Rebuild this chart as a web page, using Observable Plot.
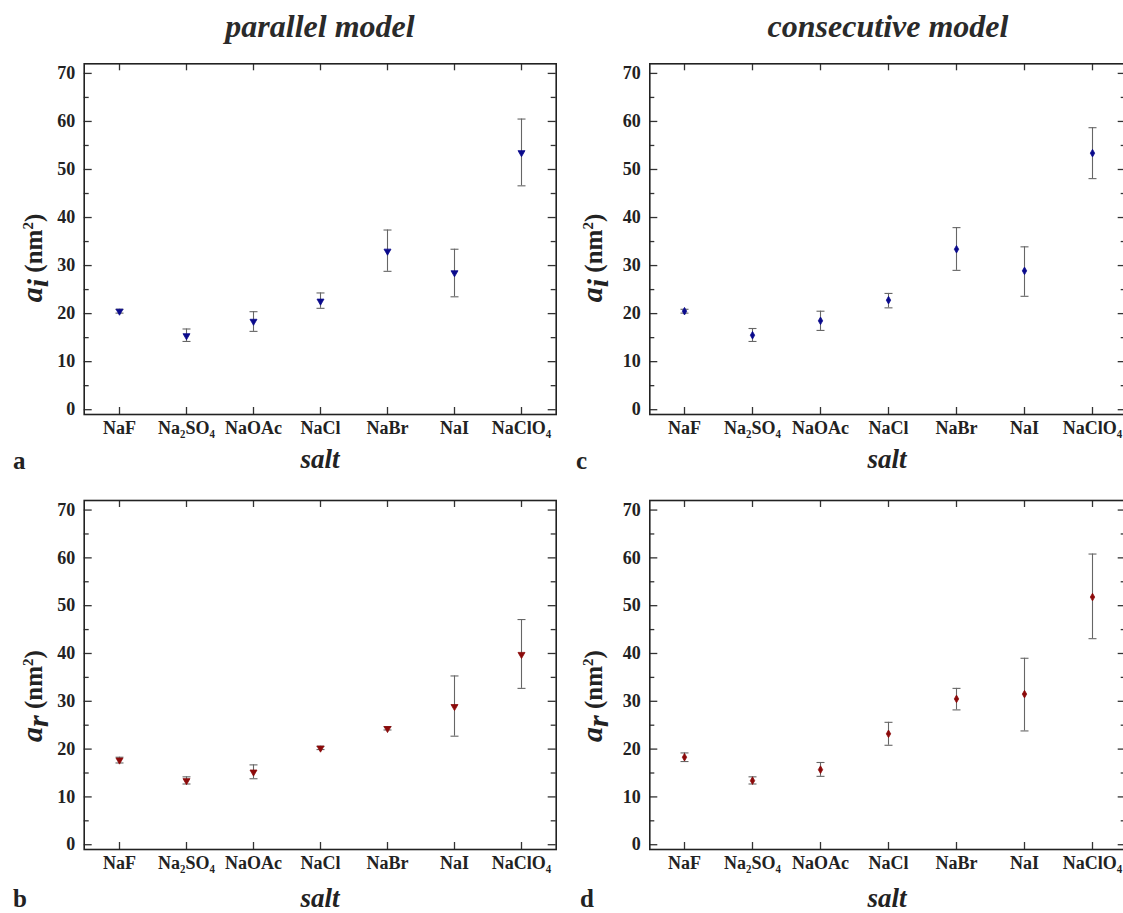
<!DOCTYPE html>
<html>
<head>
<meta charset="utf-8">
<script src="https://cdn.jsdelivr.net/npm/d3@7"></script>
<script src="https://cdn.jsdelivr.net/npm/@observablehq/plot@0.6"></script>
<style>
  html, body { margin: 0; padding: 0; background: #fff; }
  #root { position: relative; width: 1123px; height: 913px; overflow: hidden; font-family: "Liberation Serif", "Times New Roman", serif; color: #222; }
  .abs { position: absolute; }
  .title { font-size: 32px; font-weight: bold; font-style: italic; color: #2a2a2a; transform: translate(-50%, -50%); white-space: nowrap; }
  .xlab { font-size: 27px; font-weight: bold; font-style: italic; transform: translate(-50%, -50%); white-space: nowrap; }
  .letter { font-size: 25px; font-weight: bold; transform: translate(0, -50%); }
  .ylab { font-size: 25px; font-weight: bold; transform: translate(-50%, -50%) rotate(-90deg); white-space: nowrap; }
  .ylab i { font-size: 30px; }
  .ylab sub, .ylab sup { font-size: 15px; }
  svg { max-width: none !important; }
</style>
</head>
<body>
<div id="root"></div>
<script>
// ---- data ----
const salts = ["NaF", "Na\u2082SO\u2084", "NaOAc", "NaCl", "NaBr", "NaI", "NaClO\u2084"];
const yMajorTicks = [0, 10, 20, 30, 40, 50, 60, 70];
const yMinorTicks = [5, 15, 25, 35, 45, 55, 65];

// (a) parallel model, a_i
const parallelAi     = [20.5, 15.4, 18.4, 22.6, 33.0, 28.5, 53.5];
const parallelAiLow  = [20.1, 14.2, 16.3, 21.1, 28.8, 23.5, 46.6];
const parallelAiHigh = [20.9, 16.8, 20.4, 24.3, 37.4, 33.4, 60.5];
// (c) consecutive model, a_i
const consecAi       = [20.5, 15.5, 18.5, 22.8, 33.4, 28.9, 53.4];
const consecAiLow    = [20.1, 14.2, 16.5, 21.2, 29.0, 23.6, 48.1];
const consecAiHigh   = [20.9, 16.9, 20.5, 24.2, 37.9, 33.9, 58.7];
// (b) parallel model, a_r
const parallelAr     = [17.7, 13.4, 15.2, 20.2, 24.3, 28.9, 39.8];
const parallelArLow  = [17.1, 12.7, 13.8, 19.9, 24.0, 22.7, 32.7];
const parallelArHigh = [18.3, 14.2, 16.7, 20.6, 24.7, 35.3, 47.1];
// (d) consecutive model, a_r
const consecAr       = [18.3, 13.4, 15.7, 23.2, 30.5, 31.5, 51.8];
const consecArLow    = [17.4, 12.7, 14.3, 20.8, 28.2, 23.8, 43.1];
const consecArHigh   = [19.2, 14.2, 17.2, 25.6, 32.7, 39.0, 60.8];

const root = document.getElementById("root");

const capSymbol = {
  draw(ctx, size) {
    const w = Math.sqrt(size / Math.PI);
    ctx.moveTo(-w, 0);
    ctx.lineTo(w, 0);
  }
};

function panel({left, top, width, height, ml, mr, mt, mb, vals, lo, hi, color, symbol, r, rotate}) {
  const fw = width - ml - mr;
  const fh = height - mt - mb;
  const rows = salts.map((s, i) => ({salt: s, v: vals[i], lo: lo[i], hi: hi[i]}));
  const tickStroke = {stroke: "#333", strokeWidth: 1.3};
  const p = Plot.plot({
    width, height,
    marginLeft: ml, marginRight: mr, marginTop: mt, marginBottom: mb,
    x: {type: "point", domain: salts, padding: 0.5, label: null},
    y: {domain: [-1, 72], label: null},
    style: {fontFamily: "'Liberation Serif', 'Times New Roman', serif", color: "#222", background: "transparent", overflow: "visible", maxWidth: "none"},
    marks: [
      Plot.ruleY(yMajorTicks, {y: d => d, insetRight: fw - 8, ...tickStroke}),
      Plot.ruleY(yMajorTicks, {y: d => d, insetLeft: fw - 8, ...tickStroke}),
      Plot.ruleY(yMinorTicks, {y: d => d, insetRight: fw - 5, ...tickStroke}),
      Plot.ruleY(yMinorTicks, {y: d => d, insetLeft: fw - 5, ...tickStroke}),
      Plot.ruleX(salts, {x: d => d, insetTop: fh - 7, ...tickStroke}),
      Plot.ruleX(salts, {x: d => d, insetBottom: fh - 7, ...tickStroke}),
      Plot.axisY({ticks: yMajorTicks, tickSize: 0, tickPadding: 9, fontSize: 18, fontWeight: "bold", label: null}),
      Plot.axisX({tickSize: 0, tickPadding: 7, fontSize: 18, fontWeight: "bold", label: null}),
      Plot.frame({stroke: "#222", strokeWidth: 1.6}),
      Plot.ruleX(rows, {x: "salt", y1: "lo", y2: "hi", stroke: "#666", strokeWidth: 1.1}),
      Plot.dot(rows, {x: "salt", y: "lo", symbol: capSymbol, r: 4, stroke: "#666", strokeWidth: 1.1, fill: "none"}),
      Plot.dot(rows, {x: "salt", y: "hi", symbol: capSymbol, r: 4, stroke: "#666", strokeWidth: 1.1, fill: "none"}),
      Plot.dot(rows, {x: "salt", y: "v", symbol, r, fill: color, stroke: color, strokeWidth: 0.8, rotate})
    ]
  });
  const wrap = document.createElement("div");
  wrap.className = "abs";
  wrap.style.left = left + "px";
  wrap.style.top = top + "px";
  wrap.style.width = width + "px";
  wrap.style.height = height + "px";
  wrap.appendChild(p);
  root.appendChild(wrap);
}

function label(cls, html, x, y) {
  const d = document.createElement("div");
  d.className = "abs " + cls;
  d.style.left = x + "px";
  d.style.top = y + "px";
  d.innerHTML = html;
  root.appendChild(d);
}

const blue = "#0a0a8c", red = "#8c0a0a";

panel({left: 0, top: 0, width: 560, height: 445, ml: 83.7, mr: 4.3, mt: 63.3, mb: 31,
  vals: parallelAi, lo: parallelAiLow, hi: parallelAiHigh, color: blue, symbol: "triangle", r: 2.6, rotate: 180});
panel({left: 560, top: 0, width: 570, height: 445, ml: 89.3, mr: 4.3, mt: 63.3, mb: 31,
  vals: consecAi, lo: consecAiLow, hi: consecAiHigh, color: blue, symbol: "diamond", r: 2.3, rotate: 0});
panel({left: 0, top: 440, width: 560, height: 440, ml: 83.7, mr: 4.3, mt: 60, mb: 31,
  vals: parallelAr, lo: parallelArLow, hi: parallelArHigh, color: red, symbol: "triangle", r: 2.6, rotate: 180});
panel({left: 560, top: 440, width: 570, height: 440, ml: 89.3, mr: 4.3, mt: 60, mb: 31,
  vals: consecAr, lo: consecArLow, hi: consecArHigh, color: red, symbol: "diamond", r: 2.3, rotate: 0});

label("title", "parallel model", 320, 26);
label("title", "consecutive model", 888, 26);
label("xlab", "salt", 320, 459);
label("xlab", "salt", 887, 459);
label("xlab", "salt", 320, 898);
label("xlab", "salt", 887, 898);
label("letter", "a", 13, 461);
label("letter", "c", 576, 461);
label("letter", "b", 13, 899);
label("letter", "d", 580, 899);
label("ylab", "<i>a</i><sub><i>i</i></sub> (nm<sup>2</sup>)", 35, 258);
label("ylab", "<i>a</i><sub><i>i</i></sub> (nm<sup>2</sup>)", 595, 258);
label("ylab", "<i>a</i><sub><i>r</i></sub> (nm<sup>2</sup>)", 35, 696);
label("ylab", "<i>a</i><sub><i>r</i></sub> (nm<sup>2</sup>)", 595, 696);
</script>
</body>
</html>
